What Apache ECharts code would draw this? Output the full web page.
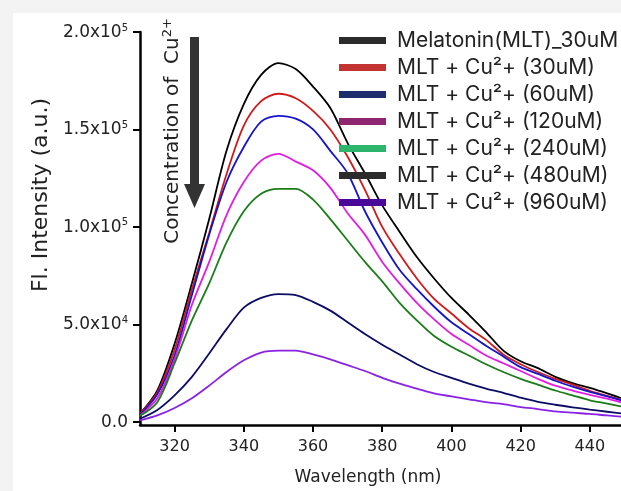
<!DOCTYPE html>
<html><head><meta charset="utf-8">
<script src="https://cdn.jsdelivr.net/npm/echarts@6/dist/echarts.min.js"></script>
<style>html,body{margin:0;padding:0;background:#f3f3f3}#c{width:621px;height:491px}</style>
</head><body><div id="c"></div>
<script>
const wavelength = [310,315,320,325,330,335,340,345,350,355,360,365,370,375,380,385,390,395,400,405,410,415,420,425,430,435,440,445,450];
const seriesNames = ['Melatonin(MLT)_30uM','MLT + Cu²+ (30uM)','MLT + Cu²+ (60uM)','MLT + Cu²+ (120uM)','MLT + Cu²+ (240uM)','MLT + Cu²+ (480uM)','MLT + Cu²+ (960uM)'];
const mlt30   = [4000,16000,40000,71000,104000,139000,163000,178000,184000,181000,172000,161000,143000,127500,111000,97500,84500,73500,63500,55000,46000,36500,31000,27500,23000,19800,17300,14500,11500];
const cu30    = [4000,15000,37000,68000,97000,127000,152000,164500,168300,166000,159500,150000,136000,119000,100000,86000,73500,63000,55500,48000,42000,34500,29500,25500,22000,19000,15800,13300,10800];
const cu60    = [3500,14000,34000,65000,96000,123000,141000,154000,157000,155500,150000,139000,127500,108000,92000,78000,68000,59000,51000,45000,39000,33500,28000,24500,21000,18000,15300,13000,10500];
const cu120   = [3000,12000,32000,60000,82000,106000,123000,134000,137500,133500,129000,120000,107000,96000,82000,71000,61000,52500,45000,39500,34000,30000,26000,22000,18500,16000,13800,11800,9500];
const cu240   = [3000,10000,30000,52000,71000,92000,108000,117000,119500,119500,114000,104000,93000,82000,72000,61000,52000,44000,38500,34000,29500,25500,22000,19000,16000,13500,11000,9300,7500];
const cu480   = [1500,6000,13500,23000,35000,47500,58500,63500,65500,65000,61500,57000,51000,45000,39500,34500,29500,25500,22500,19500,17000,14800,12300,10200,8700,7400,6200,5100,4000];
const cu960   = [700,3200,7000,12000,18500,25500,31500,35500,36500,36500,34500,32000,29000,26000,22500,19500,17000,14500,13000,11500,10000,9000,7500,6500,5300,4600,4000,3200,2500];
const xTicks = [320,340,360,380,400,420,440];
const yTicks = [0,50000,100000,150000,200000];
const yTickLabels = ['0.0','5.0x10^4','1.0x10^5','1.5x10^5','2.0x10^5'];
const lineColors = ['#000000','#d01a1a','#1414c8','#e01ee0','#1a7d1a','#0c0c66','#8a22e6'];
const legendColors = ['#2b2b2b','#c23331','#1f2d6e','#8e2570','#2db56b','#2b2b2b','#4a0898'];
const seriesValues = [mlt30,cu30,cu60,cu120,cu240,cu480,cu960];

const chart = echarts.init(document.getElementById('c'), null, {renderer:'canvas'});
const FONT = 'DejaVu Sans';
function yFmt(v){
  const i = yTicks.indexOf(v);
  if (i < 0) return '';
  const s = yTickLabels[i];
  if (s.indexOf('^') < 0) return '{b|' + s + '}';
  const p = s.split('^');
  return '{b|' + p[0] + '}{s|' + p[1] + '}';
}
const option = {
  animation: false,
  backgroundColor: '#f3f3f3',
  grid: {left:140, right:0, top:32, bottom:64, containLabel:false},
  xAxis: {
    type:'value', min:310, max:449,
    name:'Wavelength (nm)', nameLocation:'middle', nameGap:44,
    nameTextStyle:{fontFamily:FONT, fontSize:17, color:'#222', padding:[0,25,0,0]},
    axisLine:{show:true, onZero:false, lineStyle:{color:'#000', width:2.5}},
    axisTick:{show:true, inside:false, length:7, lineStyle:{color:'#000', width:2}, customValues:xTicks},
    axisLabel:{show:true, margin:14, fontFamily:FONT, fontSize:16, color:'#222', customValues:xTicks},
    splitLine:{show:false}
  },
  yAxis: {
    type:'value', min:-1700, max:200000,
    name:'Fl. Intensity (a.u.)', nameLocation:'middle', nameGap:76, nameRotate:90,
    nameTextStyle:{fontFamily:FONT, fontSize:22, color:'#222', padding:[0,0,0,67]},
    axisLine:{show:true, onZero:false, lineStyle:{color:'#000', width:2.5}},
    axisTick:{show:true, inside:false, length:7, lineStyle:{color:'#000', width:2}, customValues:yTicks},
    axisLabel:{show:true, margin:12, customValues:yTicks, formatter:yFmt,
      rich:{
        b:{fontFamily:FONT, fontSize:17, color:'#222', lineHeight:18, verticalAlign:'bottom'},
        s:{fontFamily:FONT, fontSize:10, color:'#222', lineHeight:10, verticalAlign:'top'}
      }},
    splitLine:{show:false}
  },
  legend: {
    orient:'vertical', left:339, top:30, padding:0, itemWidth:47, itemHeight:7, itemGap:6,
    icon:'rect', data: seriesNames,
    textStyle:{fontFamily:'Inter', fontSize:21, color:'#222', lineHeight:20, padding:[0,0,0,6]}
  },
  graphic: [
    {type:'rect', z:-10, silent:true, shape:{x:13, y:13, width:620, height:490}, style:{fill:'#ffffff'}},
    {type:'polygon', z:10, silent:true, shape:{points:[[190,37],[199,37],[199,184],[205,184],[194.5,208],[184,184],[190,184]]}, style:{fill:'#333333'}},
    {type:'text', z:10, silent:true, x:172, y:131, rotation:Math.PI/2,
      style:{text:'{n|Concentration of  Cu}{s|2+}', align:'center', verticalAlign:'middle',
        rich:{n:{fontFamily:FONT, fontSize:20, fill:'#222', lineHeight:22, verticalAlign:'bottom'},
              s:{fontFamily:FONT, fontSize:13, fill:'#222', lineHeight:13, verticalAlign:'top'}}}}
  ],
  series: seriesNames.map((n, k) => ({
    name:n, type:'line', showSymbol:false, smooth:0.3,
    data: wavelength.map((w, i) => [w, seriesValues[k][i]]),
    lineStyle:{color:lineColors[k], width:1.8},
    itemStyle:{color:legendColors[k]},
    emphasis:{disabled:true}
  }))
};
chart.setOption(option);
</script></body></html>
